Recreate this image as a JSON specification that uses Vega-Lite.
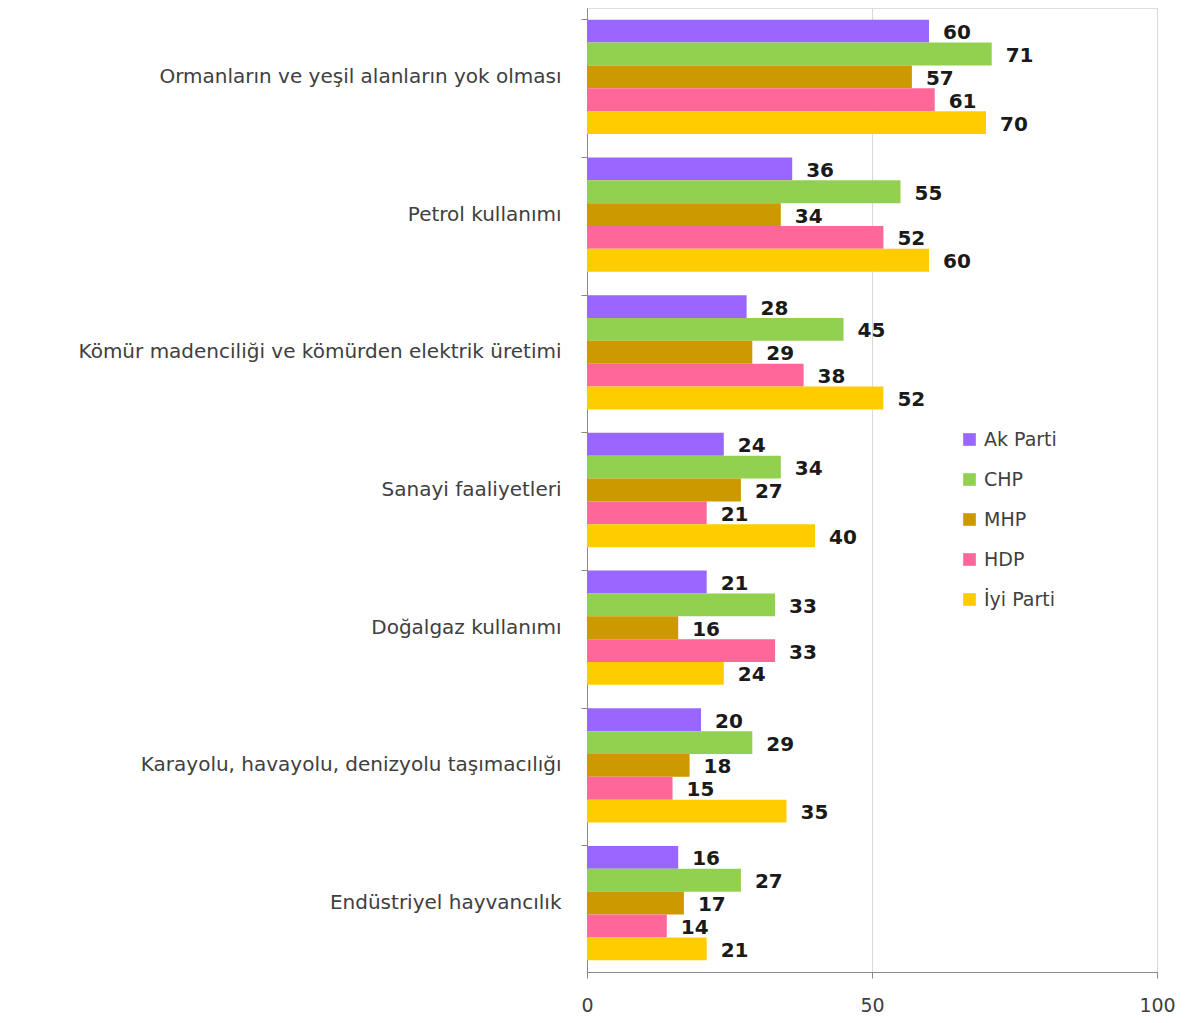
{
  "$schema": "https://vega.github.io/schema/vega-lite/v6.json",
  "autosize": "none",
  "width": 570,
  "height": 964,
  "padding": {"left": 587, "top": 8, "right": 37, "bottom": 51},
  "background": "white",
  "data": {"values": [
    {"cat": "Ormanların ve yeşil alanların yok olması", "party": "Ak Parti", "v": 60},
    {"cat": "Ormanların ve yeşil alanların yok olması", "party": "CHP", "v": 71},
    {"cat": "Ormanların ve yeşil alanların yok olması", "party": "MHP", "v": 57},
    {"cat": "Ormanların ve yeşil alanların yok olması", "party": "HDP", "v": 61},
    {"cat": "Ormanların ve yeşil alanların yok olması", "party": "İyi Parti", "v": 70},
    {"cat": "Petrol kullanımı", "party": "Ak Parti", "v": 36},
    {"cat": "Petrol kullanımı", "party": "CHP", "v": 55},
    {"cat": "Petrol kullanımı", "party": "MHP", "v": 34},
    {"cat": "Petrol kullanımı", "party": "HDP", "v": 52},
    {"cat": "Petrol kullanımı", "party": "İyi Parti", "v": 60},
    {"cat": "Kömür madenciliği ve kömürden elektrik üretimi", "party": "Ak Parti", "v": 28},
    {"cat": "Kömür madenciliği ve kömürden elektrik üretimi", "party": "CHP", "v": 45},
    {"cat": "Kömür madenciliği ve kömürden elektrik üretimi", "party": "MHP", "v": 29},
    {"cat": "Kömür madenciliği ve kömürden elektrik üretimi", "party": "HDP", "v": 38},
    {"cat": "Kömür madenciliği ve kömürden elektrik üretimi", "party": "İyi Parti", "v": 52},
    {"cat": "Sanayi faaliyetleri", "party": "Ak Parti", "v": 24},
    {"cat": "Sanayi faaliyetleri", "party": "CHP", "v": 34},
    {"cat": "Sanayi faaliyetleri", "party": "MHP", "v": 27},
    {"cat": "Sanayi faaliyetleri", "party": "HDP", "v": 21},
    {"cat": "Sanayi faaliyetleri", "party": "İyi Parti", "v": 40},
    {"cat": "Doğalgaz kullanımı", "party": "Ak Parti", "v": 21},
    {"cat": "Doğalgaz kullanımı", "party": "CHP", "v": 33},
    {"cat": "Doğalgaz kullanımı", "party": "MHP", "v": 16},
    {"cat": "Doğalgaz kullanımı", "party": "HDP", "v": 33},
    {"cat": "Doğalgaz kullanımı", "party": "İyi Parti", "v": 24},
    {"cat": "Karayolu, havayolu, denizyolu taşımacılığı", "party": "Ak Parti", "v": 20},
    {"cat": "Karayolu, havayolu, denizyolu taşımacılığı", "party": "CHP", "v": 29},
    {"cat": "Karayolu, havayolu, denizyolu taşımacılığı", "party": "MHP", "v": 18},
    {"cat": "Karayolu, havayolu, denizyolu taşımacılığı", "party": "HDP", "v": 15},
    {"cat": "Karayolu, havayolu, denizyolu taşımacılığı", "party": "İyi Parti", "v": 35},
    {"cat": "Endüstriyel hayvancılık", "party": "Ak Parti", "v": 16},
    {"cat": "Endüstriyel hayvancılık", "party": "CHP", "v": 27},
    {"cat": "Endüstriyel hayvancılık", "party": "MHP", "v": 17},
    {"cat": "Endüstriyel hayvancılık", "party": "HDP", "v": 14},
    {"cat": "Endüstriyel hayvancılık", "party": "İyi Parti", "v": 21}
  ]},
  "encoding": {
    "y": {
      "field": "cat", "type": "nominal", "sort": null, "title": null,
      "scale": {"paddingInner": 0.17, "paddingOuter": 0.085},
      "axis": {
        "bandPosition": 0, "domainColor": "#888888", "tickColor": "#888888", "tickSize": 6,
        "labelFont": "DejaVu Sans", "labelFontSize": 20, "labelColor": "#404040",
        "labelPadding": 20, "labelLimit": 600, "grid": false
      }
    },
    "yOffset": {"field": "party", "type": "nominal", "sort": ["Ak Parti", "CHP", "MHP", "HDP", "İyi Parti"], "scale": {"paddingInner": 0, "paddingOuter": 0}},
    "x": {
      "field": "v", "type": "quantitative", "title": null,
      "scale": {"domain": [0, 100], "nice": false},
      "axis": {
        "values": [0, 50, 100], "domainColor": "#888888", "tickColor": "#888888", "tickSize": 6,
        "gridColor": "#d9d9d9", "labelFont": "DejaVu Sans", "labelFontSize": 19,
        "labelColor": "#404040", "labelPadding": 18, "labelFlush": false
      }
    }
  },
  "layer": [
    {
      "mark": {"type": "bar"},
      "encoding": {
        "color": {
          "field": "party", "type": "nominal",
          "scale": {"domain": ["Ak Parti", "CHP", "MHP", "HDP", "İyi Parti"], "range": ["#9966FF", "#92D050", "#CC9900", "#FF6699", "#FFCC00"]},
          "legend": {
            "title": null, "orient": "none", "legendX": 373, "legendY": 422,
            "symbolType": "square", "symbolSize": 160, "symbolStrokeWidth": 0, "symbolOpacity": 1,
            "labelFont": "DejaVu Sans", "labelFontSize": 19, "labelColor": "#404040",
            "rowPadding": 20, "labelOffset": 5
          }
        }
      }
    },
    {
      "mark": {"type": "text", "align": "left", "dx": 14, "dy": 2, "font": "DejaVu Sans", "fontWeight": "bold", "fontSize": 20, "color": "#1a1a1a"},
      "encoding": {"text": {"field": "v", "type": "quantitative"}}
    }
  ]
}
